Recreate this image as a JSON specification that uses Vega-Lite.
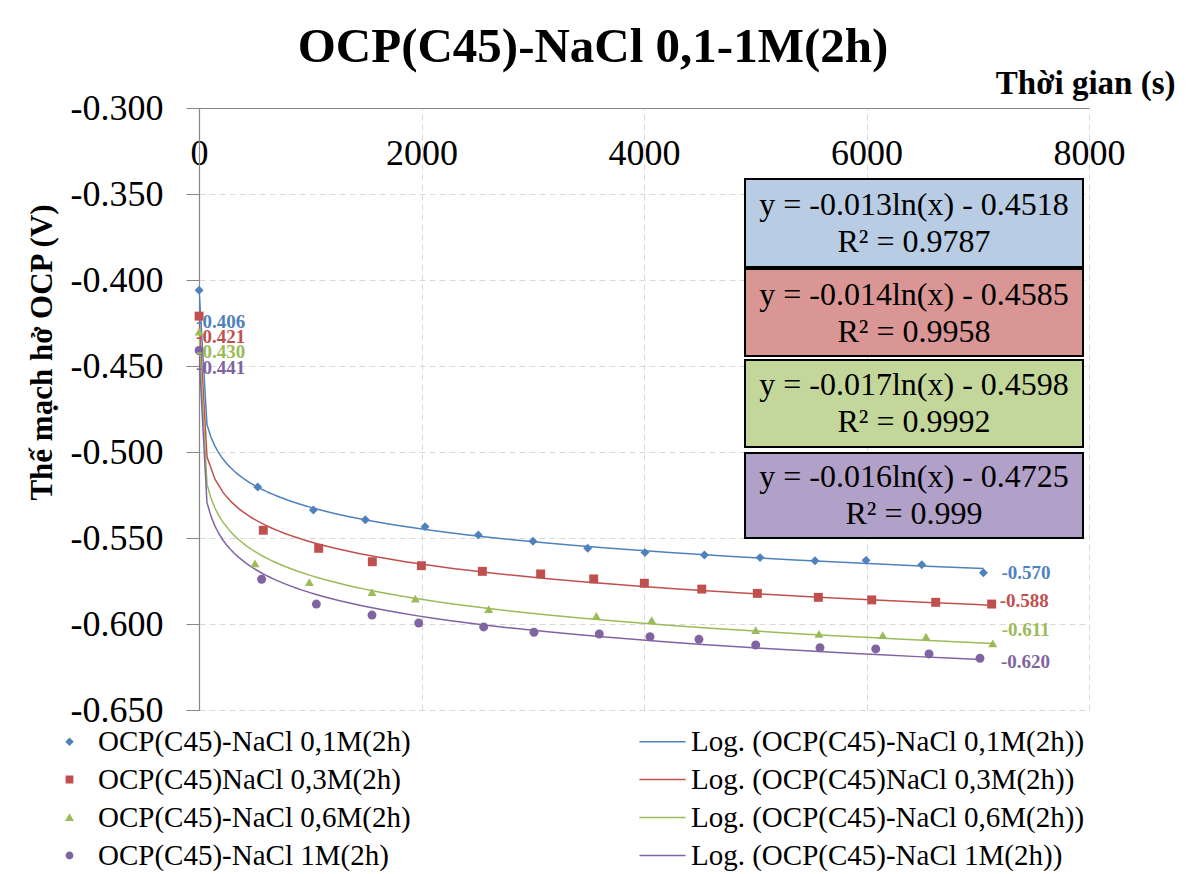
{
 "$schema": "https://vega.github.io/schema/vega-lite/v6.json",
 "width": 890,
 "height": 602,
 "autosize": {"type": "none"},
 "padding": {"left": 199, "top": 108, "right": 98, "bottom": 164},
 "background": "white",
 "config": {"font": "Liberation Serif", "view": {"stroke": null},
  "locale": {"number": {"decimal": ".", "thousands": ",", "grouping": [3], "currency": ["$", ""], "minus": "-"}}},
 "title": {"text": "OCP(C45)-NaCl 0,1-1M(2h)", "fontSize": 49, "fontWeight": "bold", "font": "Liberation Serif", "color": "black", "anchor": "middle", "frame": "group", "dx": -51, "dy": 15, "offset": 10},
 "datasets": {
  "pts": [
   {"s": "OCP(C45)-NaCl 0,1M(2h)", "t": 1, "v": -0.406},
   {"s": "OCP(C45)-NaCl 0,1M(2h)", "t": 528, "v": -0.5203},
   {"s": "OCP(C45)-NaCl 0,1M(2h)", "t": 1028, "v": -0.5337},
   {"s": "OCP(C45)-NaCl 0,1M(2h)", "t": 1495, "v": -0.5394},
   {"s": "OCP(C45)-NaCl 0,1M(2h)", "t": 2032, "v": -0.5434},
   {"s": "OCP(C45)-NaCl 0,1M(2h)", "t": 2511, "v": -0.5483},
   {"s": "OCP(C45)-NaCl 0,1M(2h)", "t": 3002, "v": -0.5519},
   {"s": "OCP(C45)-NaCl 0,1M(2h)", "t": 3494, "v": -0.5560},
   {"s": "OCP(C45)-NaCl 0,1M(2h)", "t": 4009, "v": -0.5585},
   {"s": "OCP(C45)-NaCl 0,1M(2h)", "t": 4543, "v": -0.5599},
   {"s": "OCP(C45)-NaCl 0,1M(2h)", "t": 5043, "v": -0.5614},
   {"s": "OCP(C45)-NaCl 0,1M(2h)", "t": 5537, "v": -0.5632},
   {"s": "OCP(C45)-NaCl 0,1M(2h)", "t": 5996, "v": -0.5630},
   {"s": "OCP(C45)-NaCl 0,1M(2h)", "t": 6497, "v": -0.5655},
   {"s": "OCP(C45)-NaCl 0,1M(2h)", "t": 7051, "v": -0.5702},
   {"s": "OCP(C45)NaCl 0,3M(2h)", "t": 1, "v": -0.421},
   {"s": "OCP(C45)NaCl 0,3M(2h)", "t": 578, "v": -0.5455},
   {"s": "OCP(C45)NaCl 0,3M(2h)", "t": 1076, "v": -0.5560},
   {"s": "OCP(C45)NaCl 0,3M(2h)", "t": 1558, "v": -0.5638},
   {"s": "OCP(C45)NaCl 0,3M(2h)", "t": 1999, "v": -0.5661},
   {"s": "OCP(C45)NaCl 0,3M(2h)", "t": 2547, "v": -0.5694},
   {"s": "OCP(C45)NaCl 0,3M(2h)", "t": 3071, "v": -0.5709},
   {"s": "OCP(C45)NaCl 0,3M(2h)", "t": 3548, "v": -0.5738},
   {"s": "OCP(C45)NaCl 0,3M(2h)", "t": 4003, "v": -0.5763},
   {"s": "OCP(C45)NaCl 0,3M(2h)", "t": 4519, "v": -0.5797},
   {"s": "OCP(C45)NaCl 0,3M(2h)", "t": 5019, "v": -0.5822},
   {"s": "OCP(C45)NaCl 0,3M(2h)", "t": 5567, "v": -0.5845},
   {"s": "OCP(C45)NaCl 0,3M(2h)", "t": 6047, "v": -0.5860},
   {"s": "OCP(C45)NaCl 0,3M(2h)", "t": 6622, "v": -0.5874},
   {"s": "OCP(C45)NaCl 0,3M(2h)", "t": 7125, "v": -0.5884},
   {"s": "OCP(C45)-NaCl 0,6M(2h)", "t": 1, "v": -0.430},
   {"s": "OCP(C45)-NaCl 0,6M(2h)", "t": 503, "v": -0.5647},
   {"s": "OCP(C45)-NaCl 0,6M(2h)", "t": 992, "v": -0.5757},
   {"s": "OCP(C45)-NaCl 0,6M(2h)", "t": 1555, "v": -0.5814},
   {"s": "OCP(C45)-NaCl 0,6M(2h)", "t": 1945, "v": -0.5852},
   {"s": "OCP(C45)-NaCl 0,6M(2h)", "t": 2604, "v": -0.5914},
   {"s": "OCP(C45)-NaCl 0,6M(2h)", "t": 3571, "v": -0.5953},
   {"s": "OCP(C45)-NaCl 0,6M(2h)", "t": 4069, "v": -0.5977},
   {"s": "OCP(C45)-NaCl 0,6M(2h)", "t": 5004, "v": -0.6035},
   {"s": "OCP(C45)-NaCl 0,6M(2h)", "t": 5573, "v": -0.6058},
   {"s": "OCP(C45)-NaCl 0,6M(2h)", "t": 6146, "v": -0.6064},
   {"s": "OCP(C45)-NaCl 0,6M(2h)", "t": 6535, "v": -0.6074},
   {"s": "OCP(C45)-NaCl 0,6M(2h)", "t": 7135, "v": -0.6112},
   {"s": "OCP(C45)-NaCl 1M(2h)", "t": 1, "v": -0.441},
   {"s": "OCP(C45)-NaCl 1M(2h)", "t": 563, "v": -0.5740},
   {"s": "OCP(C45)-NaCl 1M(2h)", "t": 1055, "v": -0.5884},
   {"s": "OCP(C45)-NaCl 1M(2h)", "t": 1555, "v": -0.5948},
   {"s": "OCP(C45)-NaCl 1M(2h)", "t": 1975, "v": -0.5994},
   {"s": "OCP(C45)-NaCl 1M(2h)", "t": 2559, "v": -0.6017},
   {"s": "OCP(C45)-NaCl 1M(2h)", "t": 3011, "v": -0.6048},
   {"s": "OCP(C45)-NaCl 1M(2h)", "t": 3598, "v": -0.6058},
   {"s": "OCP(C45)-NaCl 1M(2h)", "t": 4054, "v": -0.6074},
   {"s": "OCP(C45)-NaCl 1M(2h)", "t": 4494, "v": -0.6089},
   {"s": "OCP(C45)-NaCl 1M(2h)", "t": 5004, "v": -0.6122},
   {"s": "OCP(C45)-NaCl 1M(2h)", "t": 5582, "v": -0.6138},
   {"s": "OCP(C45)-NaCl 1M(2h)", "t": 6083, "v": -0.6145},
   {"s": "OCP(C45)-NaCl 1M(2h)", "t": 6562, "v": -0.6174},
   {"s": "OCP(C45)-NaCl 1M(2h)", "t": 7020, "v": -0.6199}
  ],
  "meta": [
   {"s": "OCP(C45)-NaCl 0,1M(2h)", "trend": "Log. (OCP(C45)-NaCl 0,1M(2h))"},
   {"s": "OCP(C45)NaCl 0,3M(2h)", "trend": "Log. (OCP(C45)NaCl 0,3M(2h))"},
   {"s": "OCP(C45)-NaCl 0,6M(2h)", "trend": "Log. (OCP(C45)-NaCl 0,6M(2h))"},
   {"s": "OCP(C45)-NaCl 1M(2h)", "trend": "Log. (OCP(C45)-NaCl 1M(2h))"}
  ],
  "fits": [
   {"s": "OCP(C45)-NaCl 0,1M(2h)", "eq": "y = -0.013ln(x)  - 0.4518", "r2": "R² = 0.9787"},
   {"s": "OCP(C45)NaCl 0,3M(2h)", "eq": "y = -0.014ln(x)  - 0.4585", "r2": "R² = 0.9958"},
   {"s": "OCP(C45)-NaCl 0,6M(2h)", "eq": "y = -0.017ln(x)  - 0.4598", "r2": "R² = 0.9992"},
   {"s": "OCP(C45)-NaCl 1M(2h)", "eq": "y = -0.016ln(x)  - 0.4725", "r2": "R² = 0.999"}
  ]
 },
 "data": {"name": "pts"},
 "layer": [
  {
   "transform": [
    {"regression": "v", "on": "t", "groupby": ["s"], "method": "log"},
    {"lookup": "s", "from": {"data": {"name": "meta"}, "key": "s", "fields": ["trend"]}}
   ],
   "mark": {"type": "line", "strokeWidth": 1.5, "clip": true},
   "encoding": {
    "x": {"field": "t", "type": "quantitative",
     "scale": {"domain": [0, 8000], "nice": false},
     "axis": {"orient": "top", "title": "Thời gian (s)", "values": [0, 2000, 4000, 6000, 8000], "format": "d",
      "labelFontSize": 36, "labelColor": "black", "labelFont": "Liberation Serif", "ticks": false, "tickSize": 0, "labelPadding": -45, "labelBaseline": "middle", "labelFlush": false, "labelOverlap": false,
      "domainColor": "#868686", "domainWidth": 1.2,
      "grid": true, "gridColor": "#d9d9d9", "gridDash": [6, 4], "gridWidth": 1,
      "titleFontSize": 33, "titleFontWeight": "bold", "titleColor": "black", "titleX": 976, "titleY": -25, "titleAlign": "right", "titleBaseline": "middle", "titleAnchor": null}},
    "y": {"field": "v", "type": "quantitative",
     "scale": {"domain": [-0.65, -0.3], "nice": false, "zero": false},
     "axis": {"title": "Thế mạch hở OCP (V)", "values": [-0.65, -0.6, -0.55, -0.5, -0.45, -0.4, -0.35, -0.3], "format": ".3f",
      "labelFontSize": 36, "labelColor": "black", "labelFont": "Liberation Serif", "tickSize": 13, "tickColor": "#868686", "labelPadding": 23, "labelFlush": false, "labelOverlap": false,
      "domainColor": "#868686", "domainWidth": 1.2,
      "grid": true, "gridColor": "#d9d9d9", "gridDash": [6, 4], "gridWidth": 1,
      "titleFontSize": 31, "titleFontWeight": "bold", "titleColor": "black", "titleX": -157, "titleY": 244, "titleAngle": -90, "titleAlign": "center", "titleBaseline": "middle"}},
    "detail": {"field": "s"},
    "color": {"field": "trend", "type": "nominal",
     "scale": {"domain": ["OCP(C45)-NaCl 0,1M(2h)", "OCP(C45)NaCl 0,3M(2h)", "OCP(C45)-NaCl 0,6M(2h)", "OCP(C45)-NaCl 1M(2h)", "Log. (OCP(C45)-NaCl 0,1M(2h))", "Log. (OCP(C45)NaCl 0,3M(2h))", "Log. (OCP(C45)-NaCl 0,6M(2h))", "Log. (OCP(C45)-NaCl 1M(2h))"],
      "range": ["#4f81bd", "#c0504d", "#9bbb59", "#8064a2", "#4f81bd", "#c0504d", "#9bbb59", "#8064a2"]},
     "legend": {"orient": "none", "legendX": -144, "legendY": 619, "columns": 2, "title": null, "labelFontSize": 29, "labelColor": "black", "labelFont": "Liberation Serif", "labelLimit": 700, "symbolSize": 40, "labelOffset": 14, "columnPadding": 225, "rowPadding": 8, "symbolStrokeWidth": 1.5,
      "encode": {"symbols": {"update": {"stroke": {"scale": "color", "field": "value"}}}}}}
   }
  },
  {
   "mark": {"type": "point", "filled": true, "size": 80, "opacity": 1},
   "encoding": {
    "x": {"field": "t", "type": "quantitative"},
    "y": {"field": "v", "type": "quantitative"},
    "color": {"field": "s", "type": "nominal",
     "scale": {"domain": ["OCP(C45)-NaCl 0,1M(2h)", "OCP(C45)NaCl 0,3M(2h)", "OCP(C45)-NaCl 0,6M(2h)", "OCP(C45)-NaCl 1M(2h)", "Log. (OCP(C45)-NaCl 0,1M(2h))", "Log. (OCP(C45)NaCl 0,3M(2h))", "Log. (OCP(C45)-NaCl 0,6M(2h))", "Log. (OCP(C45)-NaCl 1M(2h))"],
      "range": ["#4f81bd", "#c0504d", "#9bbb59", "#8064a2", "#4f81bd", "#c0504d", "#9bbb59", "#8064a2"]},
     "legend": {"orient": "none", "legendX": -144, "legendY": 619, "columns": 2, "title": null, "labelFontSize": 29, "labelColor": "black", "labelFont": "Liberation Serif", "labelLimit": 700, "symbolSize": 40, "labelOffset": 14, "columnPadding": 225, "rowPadding": 8, "symbolStrokeWidth": 1.5,
      "encode": {"symbols": {"update": {"stroke": {"scale": "color", "field": "value"}}}}}},
    "shape": {"field": "s", "type": "nominal",
     "scale": {"domain": ["OCP(C45)-NaCl 0,1M(2h)", "OCP(C45)NaCl 0,3M(2h)", "OCP(C45)-NaCl 0,6M(2h)", "OCP(C45)-NaCl 1M(2h)", "Log. (OCP(C45)-NaCl 0,1M(2h))", "Log. (OCP(C45)NaCl 0,3M(2h))", "Log. (OCP(C45)-NaCl 0,6M(2h))", "Log. (OCP(C45)-NaCl 1M(2h))"],
      "range": ["diamond", "square", "triangle-up", "circle", "M-7.3,0H7.3", "M-7.3,0H7.3", "M-7.3,0H7.3", "M-7.3,0H7.3"]},
     "legend": {"orient": "none", "legendX": -144, "legendY": 619, "columns": 2, "title": null, "labelFontSize": 29, "labelColor": "black", "labelFont": "Liberation Serif", "labelLimit": 700, "symbolSize": 40, "labelOffset": 14, "columnPadding": 225, "rowPadding": 8, "symbolStrokeWidth": 1.5,
      "encode": {"symbols": {"update": {"stroke": {"scale": "color", "field": "value"}}}}}}
   }
  },
  {"transform": [{"filter": "datum.t == 1 && datum.s == 'OCP(C45)-NaCl 0,1M(2h)'"}],
   "mark": {"type": "text", "align": "left", "baseline": "middle", "dx": -3, "dy": 32, "fontSize": 19, "fontWeight": "bold", "color": "#4f81bd"},
   "encoding": {"x": {"field": "t", "type": "quantitative"}, "y": {"field": "v", "type": "quantitative"}, "text": {"field": "v", "type": "quantitative", "format": ".3f"}}},
  {"transform": [{"filter": "datum.t == 1 && datum.s == 'OCP(C45)NaCl 0,3M(2h)'"}],
   "mark": {"type": "text", "align": "left", "baseline": "middle", "dx": -3, "dy": 21, "fontSize": 19, "fontWeight": "bold", "color": "#c0504d"},
   "encoding": {"x": {"field": "t", "type": "quantitative"}, "y": {"field": "v", "type": "quantitative"}, "text": {"field": "v", "type": "quantitative", "format": ".3f"}}},
  {"transform": [{"filter": "datum.t == 1 && datum.s == 'OCP(C45)-NaCl 0,6M(2h)'"}],
   "mark": {"type": "text", "align": "left", "baseline": "middle", "dx": -3, "dy": 20, "fontSize": 19, "fontWeight": "bold", "color": "#9bbb59"},
   "encoding": {"x": {"field": "t", "type": "quantitative"}, "y": {"field": "v", "type": "quantitative"}, "text": {"field": "v", "type": "quantitative", "format": ".3f"}}},
  {"transform": [{"filter": "datum.t == 1 && datum.s == 'OCP(C45)-NaCl 1M(2h)'"}],
   "mark": {"type": "text", "align": "left", "baseline": "middle", "dx": -3, "dy": 17, "fontSize": 19, "fontWeight": "bold", "color": "#8064a2"},
   "encoding": {"x": {"field": "t", "type": "quantitative"}, "y": {"field": "v", "type": "quantitative"}, "text": {"field": "v", "type": "quantitative", "format": ".3f"}}},
  {"transform": [{"filter": "datum.t > 7000 && datum.s == 'OCP(C45)-NaCl 0,1M(2h)'"}],
   "mark": {"type": "text", "align": "left", "baseline": "middle", "dx": 18, "dy": 0, "fontSize": 19, "fontWeight": "bold", "color": "#4f81bd"},
   "encoding": {"x": {"field": "t", "type": "quantitative"}, "y": {"field": "v", "type": "quantitative"}, "text": {"field": "v", "type": "quantitative", "format": ".3f"}}},
  {"transform": [{"filter": "datum.t > 7000 && datum.s == 'OCP(C45)NaCl 0,3M(2h)'"}],
   "mark": {"type": "text", "align": "left", "baseline": "middle", "dx": 8, "dy": -3, "fontSize": 19, "fontWeight": "bold", "color": "#c0504d"},
   "encoding": {"x": {"field": "t", "type": "quantitative"}, "y": {"field": "v", "type": "quantitative"}, "text": {"field": "v", "type": "quantitative", "format": ".3f"}}},
  {"transform": [{"filter": "datum.t > 7000 && datum.s == 'OCP(C45)-NaCl 0,6M(2h)'"}],
   "mark": {"type": "text", "align": "left", "baseline": "middle", "dx": 9, "dy": -13, "fontSize": 19, "fontWeight": "bold", "color": "#9bbb59"},
   "encoding": {"x": {"field": "t", "type": "quantitative"}, "y": {"field": "v", "type": "quantitative"}, "text": {"field": "v", "type": "quantitative", "format": ".3f"}}},
  {"transform": [{"filter": "datum.t > 7000 && datum.s == 'OCP(C45)-NaCl 1M(2h)'"}],
   "mark": {"type": "text", "align": "left", "baseline": "middle", "dx": 21, "dy": 4, "fontSize": 19, "fontWeight": "bold", "color": "#8064a2"},
   "encoding": {"x": {"field": "t", "type": "quantitative"}, "y": {"field": "v", "type": "quantitative"}, "text": {"field": "v", "type": "quantitative", "format": ".3f"}}},
  {"data": {"name": "fits"}, "transform": [{"filter": "datum.s == 'OCP(C45)-NaCl 0,1M(2h)'"}],
   "layer": [
    {"mark": {"type": "rect", "fill": "#b8cce4", "stroke": "black", "strokeWidth": 2}, "encoding": {"x": {"datum": 4908, "type": "quantitative"}, "x2": {"datum": 7946}, "y": {"datum": -0.34128, "type": "quantitative"}, "y2": {"datum": -0.39244}}},
    {"mark": {"type": "text", "fontSize": 32, "dy": -18, "align": "center", "baseline": "middle", "color": "black"}, "encoding": {"x": {"datum": 6427, "type": "quantitative"}, "y": {"datum": -0.36686, "type": "quantitative"}, "text": {"field": "eq", "type": "nominal"}}},
    {"mark": {"type": "text", "fontSize": 32, "dy": 19, "align": "center", "baseline": "middle", "color": "black"}, "encoding": {"x": {"datum": 6427, "type": "quantitative"}, "y": {"datum": -0.36686, "type": "quantitative"}, "text": {"field": "r2", "type": "nominal"}}}
   ]},
  {"data": {"name": "fits"}, "transform": [{"filter": "datum.s == 'OCP(C45)NaCl 0,3M(2h)'"}],
   "layer": [
    {"mark": {"type": "rect", "fill": "#d99694", "stroke": "black", "strokeWidth": 2}, "encoding": {"x": {"datum": 4908, "type": "quantitative"}, "x2": {"datum": 7946}, "y": {"datum": -0.3936, "type": "quantitative"}, "y2": {"datum": -0.44419}}},
    {"mark": {"type": "text", "fontSize": 32, "dy": -18, "align": "center", "baseline": "middle", "color": "black"}, "encoding": {"x": {"datum": 6427, "type": "quantitative"}, "y": {"datum": -0.4189, "type": "quantitative"}, "text": {"field": "eq", "type": "nominal"}}},
    {"mark": {"type": "text", "fontSize": 32, "dy": 19, "align": "center", "baseline": "middle", "color": "black"}, "encoding": {"x": {"datum": 6427, "type": "quantitative"}, "y": {"datum": -0.4189, "type": "quantitative"}, "text": {"field": "r2", "type": "nominal"}}}
   ]},
  {"data": {"name": "fits"}, "transform": [{"filter": "datum.s == 'OCP(C45)-NaCl 0,6M(2h)'"}],
   "layer": [
    {"mark": {"type": "rect", "fill": "#c4d79b", "stroke": "black", "strokeWidth": 2}, "encoding": {"x": {"datum": 4908, "type": "quantitative"}, "x2": {"datum": 7946}, "y": {"datum": -0.44651, "type": "quantitative"}, "y2": {"datum": -0.49709}}},
    {"mark": {"type": "text", "fontSize": 32, "dy": -18, "align": "center", "baseline": "middle", "color": "black"}, "encoding": {"x": {"datum": 6427, "type": "quantitative"}, "y": {"datum": -0.4718, "type": "quantitative"}, "text": {"field": "eq", "type": "nominal"}}},
    {"mark": {"type": "text", "fontSize": 32, "dy": 19, "align": "center", "baseline": "middle", "color": "black"}, "encoding": {"x": {"datum": 6427, "type": "quantitative"}, "y": {"datum": -0.4718, "type": "quantitative"}, "text": {"field": "r2", "type": "nominal"}}}
   ]},
  {"data": {"name": "fits"}, "transform": [{"filter": "datum.s == 'OCP(C45)-NaCl 1M(2h)'"}],
   "layer": [
    {"mark": {"type": "rect", "fill": "#b1a0c7", "stroke": "black", "strokeWidth": 2}, "encoding": {"x": {"datum": 4908, "type": "quantitative"}, "x2": {"datum": 7946}, "y": {"datum": -0.50058, "type": "quantitative"}, "y2": {"datum": -0.55}}},
    {"mark": {"type": "text", "fontSize": 32, "dy": -18, "align": "center", "baseline": "middle", "color": "black"}, "encoding": {"x": {"datum": 6427, "type": "quantitative"}, "y": {"datum": -0.52529, "type": "quantitative"}, "text": {"field": "eq", "type": "nominal"}}},
    {"mark": {"type": "text", "fontSize": 32, "dy": 19, "align": "center", "baseline": "middle", "color": "black"}, "encoding": {"x": {"datum": 6427, "type": "quantitative"}, "y": {"datum": -0.52529, "type": "quantitative"}, "text": {"field": "r2", "type": "nominal"}}}
   ]}
 ]
}
